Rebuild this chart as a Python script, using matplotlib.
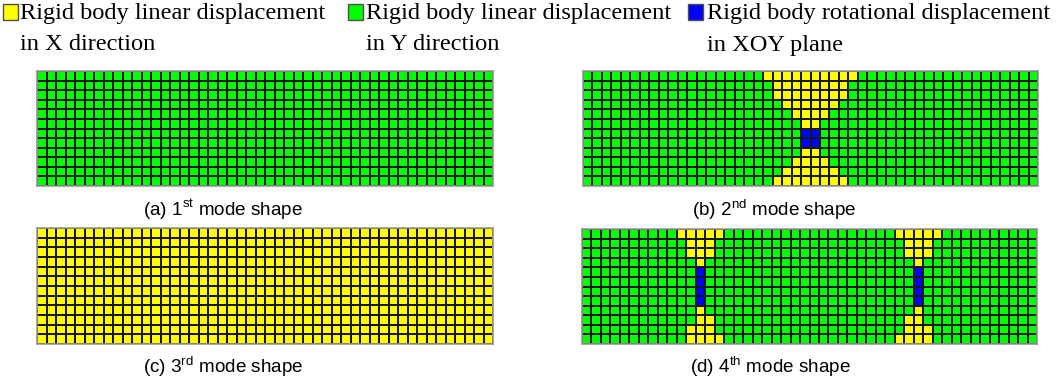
import numpy as np
import matplotlib
matplotlib.use("Agg")
import matplotlib.pyplot as plt
from matplotlib.colors import ListedColormap
from matplotlib.patches import Rectangle

W, H = 1058, 381

# element states: 0 = X translation, 1 = Y translation, 2 = rotation
state_colors = ['#ffff00', '#00ff00', '#0000ff']
legend_lines = [('Rigid body linear displacement', 'in X direction'),
                ('Rigid body linear displacement', 'in Y direction'),
                ('Rigid body rotational displacement', 'in XOY plane')]
captions = [('(a) 1', 'st'), ('(b) 2', 'nd'), ('(c) 3', 'rd'), ('(d) 4', 'th')]

n_rows, n_cols = 12, 48

# mode 2: one hourglass in the middle, yellow half-width per row
mode2_half = [5, 4, 4, 3, 2, 1, 0, 0, 1, 2, 3, 4]
mode2_blue_rows = [6, 7]
mode2_center = 24

# mode 4: two hourglasses, left one given as yellow column spans, right one mirrored
mode4_spans = [(10, 14), (11, 13), (11, 13), (12, 12), None, None, None, None,
               (12, 12), (12, 13), (11, 13), (11, 14)]
mode4_blue_rows = [4, 5, 6, 7]
mode4_blue_col = 12


def mode_grids():
    g1 = np.ones((n_rows, n_cols), dtype=int)
    g3 = np.zeros((n_rows, n_cols), dtype=int)

    g2 = np.ones((n_rows, n_cols), dtype=int)
    for r, h in enumerate(mode2_half):
        if h > 0:
            g2[r, mode2_center - h:mode2_center + h] = 0
    for r in mode2_blue_rows:
        g2[r, mode2_center - 1:mode2_center + 1] = 2

    g4 = np.ones((n_rows, n_cols), dtype=int)
    for r, sp in enumerate(mode4_spans):
        if sp is None:
            continue
        a, b = sp
        g4[r, a:b + 1] = 0
        g4[r, n_cols - 1 - b:n_cols - a] = 0
    for r in mode4_blue_rows:
        g4[r, mode4_blue_col] = 2
        g4[r, n_cols - 1 - mode4_blue_col] = 2
    return [g1, g2, g3, g4]


def fx(x):
    return x / W


def fy(y):
    return 1 - y / H


plt.rcParams['mathtext.fontset'] = 'custom'
plt.rcParams['mathtext.rm'] = 'Liberation Sans'

fig = plt.figure(figsize=(W / 100, H / 100), dpi=100)
cmap = ListedColormap(state_colors)

# panel boxes in pixels: left, top, right, bottom
boxes = [(37, 71, 493, 186), (583, 71, 1038, 186),
         (37, 228, 493, 344), (582, 229, 1037, 344)]
cap_pos = [(143, 210), (692, 210), (143, 367), (690, 367)]

for grid, (l, t, r, b), (cap, sup), (cx, cy) in zip(mode_grids(), boxes, captions, cap_pos):
    ax = fig.add_axes([fx(l), fy(b), (r - l) / W, (b - t) / H])
    ax.pcolormesh(grid, cmap=cmap, vmin=-0.5, vmax=2.5,
                  edgecolors='#151515', linewidth=1.35)
    ax.set_xlim(0, n_cols)
    ax.set_ylim(n_rows, 0)
    ax.set_xticks([])
    ax.set_yticks([])
    for s in ax.spines.values():
        s.set_color('#9a9a9a')
        s.set_linewidth(1.2)
    fig.text(fx(cx), fy(cy),
             cap + r'$^{\mathregular{' + sup + '}}$' + ' mode shape',
             fontsize=13.6, family='Liberation Sans', ha='left', va='center')

# legend across the top
sq_x = [3, 348, 688]
txt_x = [20, 366, 707]
for col, (l1, l2), sx, tx in zip(state_colors, legend_lines, sq_x, txt_x):
    fig.patches.append(Rectangle((fx(sx), fy(20)), 15 / W, 16 / H,
                                 transform=fig.transFigure, facecolor=col,
                                 edgecolor='#505050', linewidth=1.0))
    fig.text(fx(tx), fy(13), l1, fontsize=17.6, family='Liberation Serif',
             ha='left', va='center')
    fig.text(fx(tx), fy(45), l2, fontsize=17.6, family='Liberation Serif',
             ha='left', va='center')

fig.savefig('out.png', dpi=100)
